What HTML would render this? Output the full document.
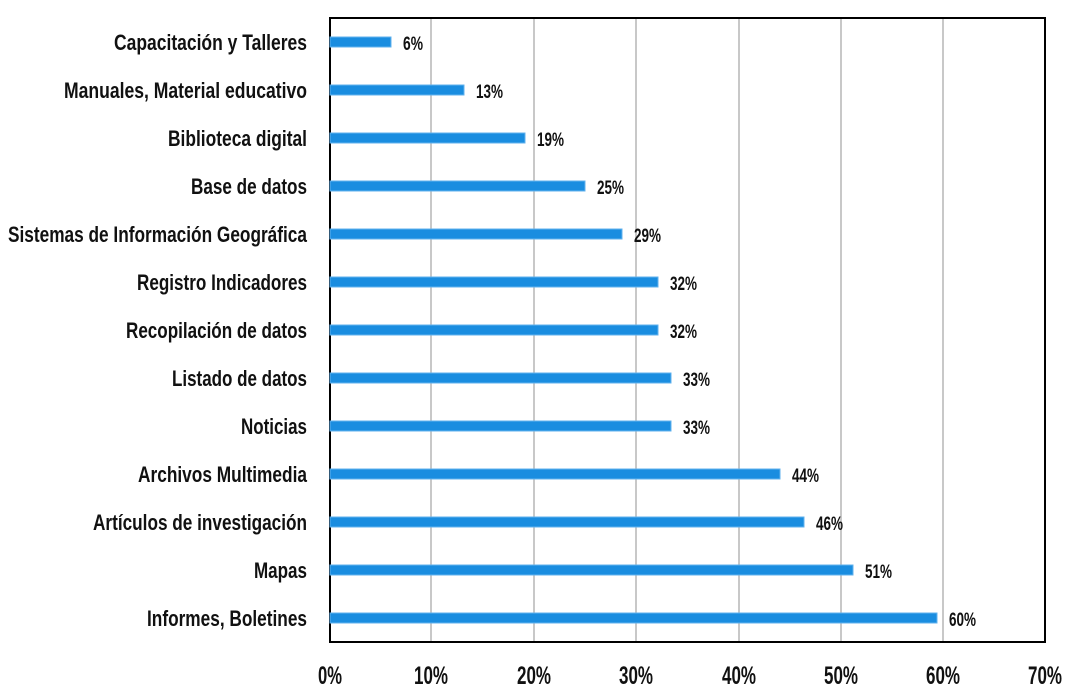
<!DOCTYPE html>
<html><head><meta charset="utf-8"><style>
html,body{margin:0;padding:0;background:#fff;}
svg text{font-family:"Liberation Sans",sans-serif;font-weight:bold;fill:#111;}
</style></head><body>
<svg width="1083" height="693" viewBox="0 0 1083 693" xmlns="http://www.w3.org/2000/svg">
<g stroke="#c8c8c8" stroke-width="2">
<line x1="431" y1="18" x2="431" y2="642"/><line x1="534" y1="18" x2="534" y2="642"/>
<line x1="636" y1="18" x2="636" y2="642"/><line x1="739" y1="18" x2="739" y2="642"/>
<line x1="841" y1="18" x2="841" y2="642"/><line x1="943" y1="18" x2="943" y2="642"/>
</g>
<rect x="330" y="18" width="715" height="624" fill="none" stroke="#000" stroke-width="2"/>
<g fill="#1a8de0" stroke="#62b2ee" stroke-width="1">
<rect x="330" y="37" width="61" height="10"/>
<rect x="330" y="85" width="134" height="10"/>
<rect x="330" y="133" width="195" height="10"/>
<rect x="330" y="181" width="255" height="10"/>
<rect x="330" y="229" width="292" height="10"/>
<rect x="330" y="277" width="328" height="10"/>
<rect x="330" y="325" width="328" height="10"/>
<rect x="330" y="373" width="341" height="10"/>
<rect x="330" y="421" width="341" height="10"/>
<rect x="330" y="469" width="450" height="10"/>
<rect x="330" y="517" width="474" height="10"/>
<rect x="330" y="565" width="523" height="10"/>
<rect x="330" y="613" width="607" height="10"/>
</g>
<g font-size="22">
<text x="114" y="50" textLength="193" lengthAdjust="spacingAndGlyphs">Capacitación y Talleres</text>
<text x="64" y="98" textLength="243" lengthAdjust="spacingAndGlyphs">Manuales, Material educativo</text>
<text x="168" y="146" textLength="139" lengthAdjust="spacingAndGlyphs">Biblioteca digital</text>
<text x="191" y="194" textLength="116" lengthAdjust="spacingAndGlyphs">Base de datos</text>
<text x="8" y="242" textLength="299" lengthAdjust="spacingAndGlyphs">Sistemas de Información Geográfica</text>
<text x="137" y="290" textLength="170" lengthAdjust="spacingAndGlyphs">Registro Indicadores</text>
<text x="126" y="338" textLength="181" lengthAdjust="spacingAndGlyphs">Recopilación de datos</text>
<text x="172" y="386" textLength="135" lengthAdjust="spacingAndGlyphs">Listado de datos</text>
<text x="241" y="434" textLength="66" lengthAdjust="spacingAndGlyphs">Noticias</text>
<text x="138" y="482" textLength="169" lengthAdjust="spacingAndGlyphs">Archivos Multimedia</text>
<text x="93" y="530" textLength="214" lengthAdjust="spacingAndGlyphs">Artículos de investigación</text>
<text x="254" y="578" textLength="53" lengthAdjust="spacingAndGlyphs">Mapas</text>
<text x="147" y="626" textLength="160" lengthAdjust="spacingAndGlyphs">Informes, Boletines</text>
</g>
<g font-size="19">
<text x="403" y="50" textLength="20" lengthAdjust="spacingAndGlyphs">6%</text>
<text x="476" y="98" textLength="27" lengthAdjust="spacingAndGlyphs">13%</text>
<text x="537" y="146" textLength="27" lengthAdjust="spacingAndGlyphs">19%</text>
<text x="597" y="194" textLength="27" lengthAdjust="spacingAndGlyphs">25%</text>
<text x="634" y="242" textLength="27" lengthAdjust="spacingAndGlyphs">29%</text>
<text x="670" y="290" textLength="27" lengthAdjust="spacingAndGlyphs">32%</text>
<text x="670" y="338" textLength="27" lengthAdjust="spacingAndGlyphs">32%</text>
<text x="683" y="386" textLength="27" lengthAdjust="spacingAndGlyphs">33%</text>
<text x="683" y="434" textLength="27" lengthAdjust="spacingAndGlyphs">33%</text>
<text x="792" y="482" textLength="27" lengthAdjust="spacingAndGlyphs">44%</text>
<text x="816" y="530" textLength="27" lengthAdjust="spacingAndGlyphs">46%</text>
<text x="865" y="578" textLength="27" lengthAdjust="spacingAndGlyphs">51%</text>
<text x="949" y="626" textLength="27" lengthAdjust="spacingAndGlyphs">60%</text>
</g>
<g font-size="25">
<text x="318" y="684" textLength="24" lengthAdjust="spacingAndGlyphs">0%</text>
<text x="414" y="684" textLength="34" lengthAdjust="spacingAndGlyphs">10%</text>
<text x="517" y="684" textLength="34" lengthAdjust="spacingAndGlyphs">20%</text>
<text x="619" y="684" textLength="34" lengthAdjust="spacingAndGlyphs">30%</text>
<text x="722" y="684" textLength="34" lengthAdjust="spacingAndGlyphs">40%</text>
<text x="824" y="684" textLength="34" lengthAdjust="spacingAndGlyphs">50%</text>
<text x="926" y="684" textLength="34" lengthAdjust="spacingAndGlyphs">60%</text>
<text x="1028" y="684" textLength="34" lengthAdjust="spacingAndGlyphs">70%</text>
</g>
</svg>
</body></html>
